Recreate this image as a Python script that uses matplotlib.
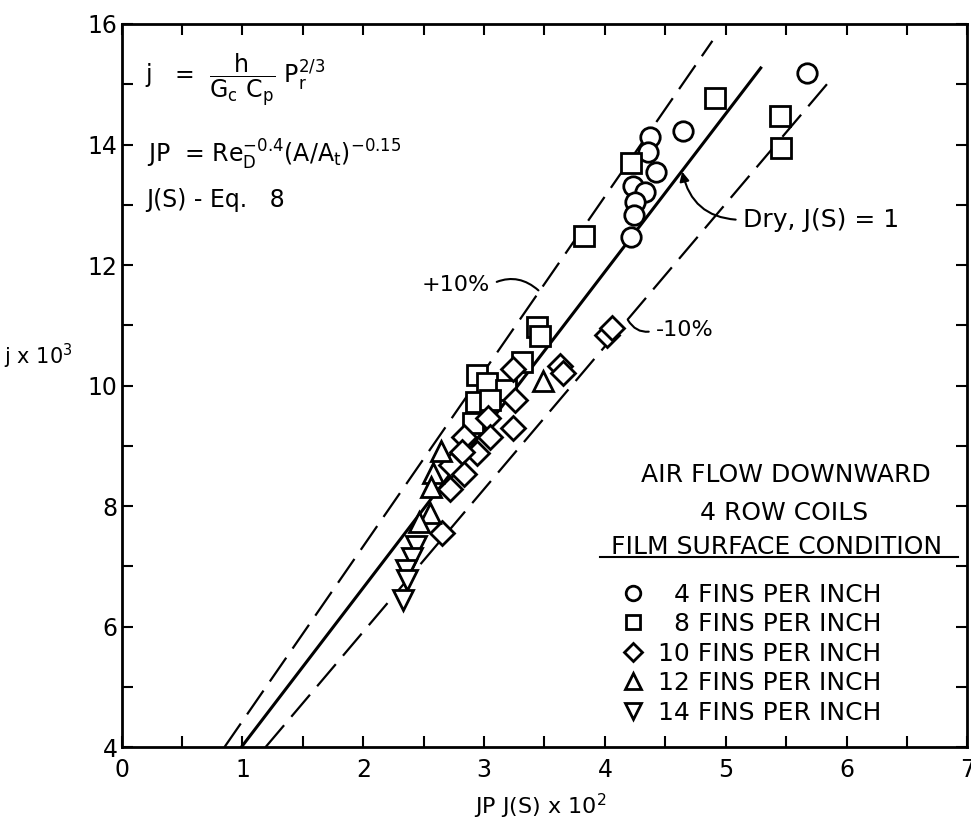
import matplotlib.pyplot as plt
from matplotlib.ticker import MultipleLocator

plt.rcParams['font.family'] = ['DejaVu Sans']
plt.rcParams['mathtext.fontset'] = 'dejavusans'

# --- data (JP J(S) x 10^2 , j x 10^3) ---
fin4_x = [5.67, 4.65, 4.37, 4.36, 4.42, 4.23, 4.33, 4.25, 4.24, 4.22]
fin4_y = [15.18, 14.23, 14.12, 13.88, 13.55, 13.31, 13.22, 13.04, 12.83, 12.47]

fin8_x = [4.91, 5.45, 5.46, 4.22, 3.83, 3.44, 3.46, 3.31, 2.94, 3.02, 3.18, 2.93, 3.05, 2.91]
fin8_y = [14.78, 14.48, 13.94, 13.70, 12.48, 10.98, 10.82, 10.40, 10.18, 10.04, 9.92, 9.73, 9.76, 9.38]

fin10_x = [4.02, 4.06, 3.63, 3.65, 3.24, 3.26, 3.03, 3.24, 3.05, 2.83, 2.94, 2.82, 2.73, 2.83, 2.72, 2.65]
fin10_y = [10.84, 10.96, 10.32, 10.21, 10.28, 9.76, 9.46, 9.29, 9.15, 9.15, 8.89, 8.90, 8.68, 8.54, 8.29, 7.55]

fin12_x = [3.49, 2.64, 2.58, 2.56, 2.55, 2.46]
fin12_y = [10.07, 8.91, 8.55, 8.32, 7.89, 7.74]

fin14_x = [2.44, 2.40, 2.35, 2.36, 2.33]
fin14_y = [7.34, 7.14, 6.94, 6.78, 6.45]

dry_x = [0.99, 5.29]
dry_y = [4.0, 15.27]
plus_x = [0.85, 4.89]
plus_y = [4.0, 15.72]
minus_x = [1.19, 5.88]
minus_y = [4.0, 15.10]

fig = plt.figure(figsize=(9.71, 8.21), dpi=100)
ax = fig.add_axes([0.1253, 0.0898, 0.8709, 0.8810])

dash = (0, (13, 5))
ax.plot(dry_x, dry_y, color='black', lw=2.2, zorder=2)
ax.plot(plus_x, plus_y, color='black', lw=1.6, linestyle=dash, zorder=2)
ax.plot(minus_x, minus_y, color='black', lw=1.6, linestyle=dash, zorder=2)

mk = dict(linestyle='none', mfc='white', mec='black', mew=2.0, zorder=3)
ax.plot(fin4_x, fin4_y, marker='o', ms=14, label='  4 FINS PER INCH', **mk)
ax.plot(fin8_x, fin8_y, marker='s', ms=14, label='  8 FINS PER INCH', **mk)
ax.plot(fin10_x, fin10_y, marker='D', ms=12, label='10 FINS PER INCH', **mk)
ax.plot(fin12_x, fin12_y, marker='^', ms=15, label='12 FINS PER INCH', **mk)
ax.plot(fin14_x, fin14_y, marker='v', ms=15, label='14 FINS PER INCH', **mk)

ax.set_xlim(0, 7)
ax.set_ylim(4, 16)
ax.xaxis.set_major_locator(MultipleLocator(1))
ax.xaxis.set_minor_locator(MultipleLocator(0.5))
ax.yaxis.set_major_locator(MultipleLocator(2))
ax.yaxis.set_minor_locator(MultipleLocator(1))
ax.tick_params(which='both', direction='in', top=True, right=True,
               length=8, width=1.5)
ax.tick_params(axis='x', labelsize=17, pad=8)
ax.tick_params(axis='y', labelsize=17, pad=3)
for s in ax.spines.values():
    s.set_linewidth(2)

ax.set_xlabel(r'JP J(S) x 10$^2$', fontsize=16)
ax.xaxis.set_label_coords(0.495, -0.062)
ax.set_ylabel(r'j x 10$^3$', fontsize=15, rotation=0, va='center', ha='center')
ax.yaxis.set_label_coords(-0.099, 0.54)

# equations top left
ax.text(0.19, 15.07, r'j   =  $\dfrac{\mathrm{h}}{\mathrm{G_c\ C_p}}\ \mathrm{P_r^{2/3}}$',
        fontsize=17, va='center', ha='left')
ax.text(0.21, 13.83, r'JP  = Re$_\mathrm{D}^{-0.4}$(A/A$_\mathrm{t}$)$^{-0.15}$',
        fontsize=17, va='center', ha='left')
ax.text(0.20, 13.08, 'J(S) - Eq.   8', fontsize=17, va='center', ha='left')

# line annotations
ax.annotate('Dry, J(S) = 1', xy=(4.64, 13.55), xytext=(5.14, 12.75),
            fontsize=18, va='center', ha='left',
            arrowprops=dict(arrowstyle='-|>', connectionstyle='arc3,rad=-0.4',
                            lw=1.5, color='black', relpos=(0, 0.5),
                            shrinkA=3, shrinkB=0, mutation_scale=14))
ax.annotate('+10%', xy=(3.45, 11.58), xytext=(3.05, 11.67),
            fontsize=16, va='center', ha='right',
            arrowprops=dict(arrowstyle='-', connectionstyle='arc3,rad=-0.35',
                            lw=1.5, color='black', relpos=(1, 0.5),
                            shrinkA=3, shrinkB=0))
ax.annotate('-10%', xy=(4.19, 11.09), xytext=(4.42, 10.92),
            fontsize=16, va='center', ha='left',
            arrowprops=dict(arrowstyle='-', connectionstyle='arc3,rad=-0.4',
                            lw=1.5, color='black', relpos=(0, 0.5),
                            shrinkA=3, shrinkB=0))

# legend block
ax.text(5.50, 8.52, 'AIR FLOW DOWNWARD', fontsize=18, ha='center', va='center')
ax.text(5.48, 7.88, '4 ROW COILS', fontsize=18, ha='center', va='center')
ax.text(5.42, 7.33, 'FILM SURFACE CONDITION', fontsize=18, ha='center', va='center')
ax.plot([3.96, 6.92], [7.15, 7.15], color='black', lw=1.5)

leg = ax.legend(loc='upper left', bbox_to_anchor=(0.575, 0.245), frameon=False,
                fontsize=18, handlelength=1.0, handletextpad=0.5,
                labelspacing=0.22, markerscale=0.75, borderpad=0)

fig.savefig('out.png', dpi=100)
